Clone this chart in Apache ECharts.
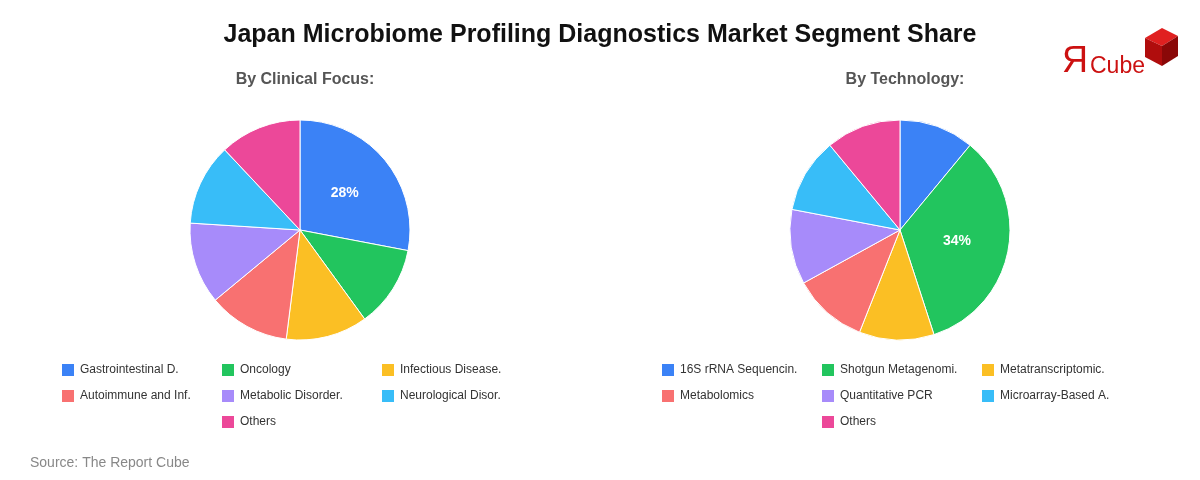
<!DOCTYPE html>
<html>
<head>
<meta charset="utf-8">
<script src="https://cdn.jsdelivr.net/npm/echarts@6/dist/echarts.min.js"></script>
<style>html,body{margin:0;padding:0;background:#fff}#chart{width:1200px;height:480px}</style>
</head>
<body>
<div id="chart"></div>
<script>
const clinicalNames = ['Gastrointestinal D.', 'Oncology', 'Infectious Disease.', 'Autoimmune and Inf.', 'Metabolic Disorder.', 'Neurological Disor.', 'Others'];
const clinicalValues = [28, 12, 12, 12, 12, 12, 12];
const techNames = ['16S rRNA Sequencin.', 'Shotgun Metagenomi.', 'Metatranscriptomic.', 'Metabolomics', 'Quantitative PCR', 'Microarray-Based A.', 'Others'];
const techValues = [11, 34, 11, 11, 11, 11, 11];
const colors = ['#3b82f6', '#22c55e', '#fbbf24', '#f87171', '#a78bfa', '#38bdf8', '#ec4899'];

function pieData(names, values) {
  const max = Math.max(...values);
  return names.map((n, i) => ({
    name: n, value: values[i],
    label: { show: values[i] === max }
  }));
}

function pieSeries(names, values, center) {
  return {
    type: 'pie', radius: 110, center: center, startAngle: 90, clockwise: true,
    data: pieData(names, values),
    itemStyle: { borderColor: '#fff', borderWidth: 1 },
    label: { position: 'inside', color: '#fff', fontWeight: 'bold', fontSize: 14,
      formatter: p => Math.round(p.percent) + '%' },
    labelLine: { show: false },
    emphasis: { disabled: true }
  };
}

// one legend per item on a fixed 3-column grid; the last one sits in the middle column
function legends(names, left) {
  return names.map((n, i) => {
    const slot = i === 6 ? 7 : i;
    return {
      data: [n], left: left + (slot % 3) * 160, top: 362 + Math.floor(slot / 3) * 26,
      padding: 0, itemWidth: 14, itemHeight: 14, icon: 'rect',
      textStyle: { fontSize: 12, color: '#333' }
    };
  });
}

const chart = echarts.init(document.getElementById('chart'));
chart.setOption({
  color: colors,
  textStyle: { fontFamily: 'Liberation Sans, Arial, sans-serif' },
  title: [
    { text: 'Japan Microbiome Profiling Diagnostics Market Segment Share', left: 'center', top: 18,
      textStyle: { fontSize: 25, fontWeight: 'bold', color: '#111' } },
    { text: 'By Clinical Focus:', left: 300, textAlign: 'center', top: 67,
      textStyle: { fontSize: 16, fontWeight: 'bold', color: '#555' } },
    { text: 'By Technology:', left: 900, textAlign: 'center', top: 67,
      textStyle: { fontSize: 16, fontWeight: 'bold', color: '#555' } },
    { text: 'Source: The Report Cube', left: 25, top: 451,
      textStyle: { fontSize: 14, fontWeight: 'normal', color: '#888' } }
  ],
  legend: legends(clinicalNames, 60).concat(legends(techNames, 660)),
  series: [
    pieSeries(clinicalNames, clinicalValues, [300, 230]),
    pieSeries(techNames, techValues, [900, 230])
  ],
  graphic: [
    { type: 'text', left: 1062, top: 44, style: { text: 'Я', fontSize: 36, fill: '#cc1111', fontFamily: 'Liberation Sans' } },
    { type: 'text', left: 1090, top: 55, style: { text: 'Cube', fontSize: 23, fill: '#cc1111', fontFamily: 'Liberation Sans' } },
    { type: 'polygon', shape: { points: [[1145, 38], [1162, 28], [1178, 36], [1162, 46]] }, style: { fill: '#e02020' } },
    { type: 'polygon', shape: { points: [[1145, 38], [1162, 46], [1162, 66], [1145, 57]] }, style: { fill: '#b00d0d' } },
    { type: 'polygon', shape: { points: [[1162, 46], [1178, 36], [1178, 56], [1162, 66]] }, style: { fill: '#8a0808' } }
  ]
});
</script>
</body>
</html>
